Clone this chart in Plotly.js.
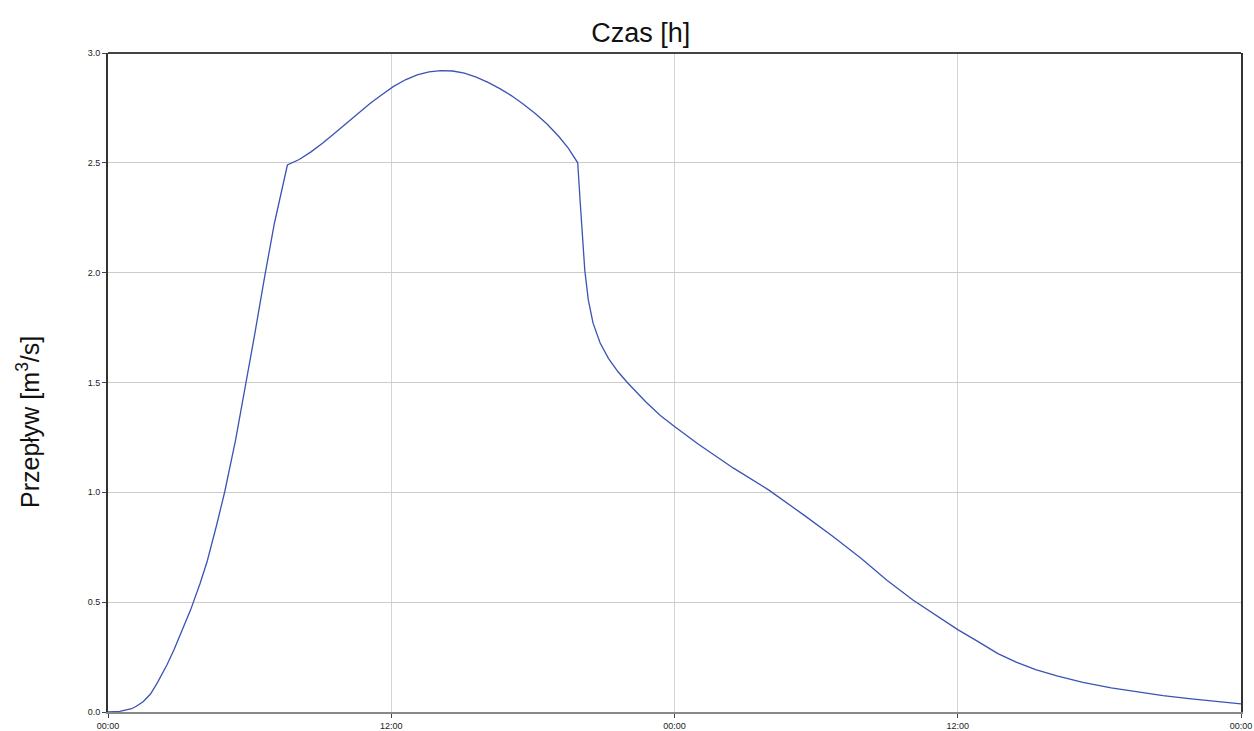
<!DOCTYPE html>
<html>
<head>
<meta charset="utf-8">
<script src="https://cdn.plot.ly/plotly-3.0.1.min.js"></script>
<style>html,body{margin:0;padding:0;background:#fff;}#chart{width:1254px;height:731px;}</style>
</head>
<body>
<div id="chart"></div>
<script>
const hours = [0, 0.5, 1.0, 1.2, 1.5, 1.8, 2.1, 2.5, 2.8, 3.2, 3.5, 3.9, 4.2, 4.6, 4.95, 5.4, 5.8, 6.2, 6.65, 7.05, 7.6,
  8.1, 8.6, 9.1, 9.6, 10.1, 10.6, 11.1, 11.6, 12.1, 12.6, 13.1, 13.6, 14.1, 14.6, 15.1, 15.6, 16.1, 16.6,
  17.1, 17.6, 18.1, 18.6, 19.1, 19.5, 19.9,
  20.0, 20.1, 20.2, 20.35, 20.55, 20.85, 21.2, 21.6, 22.0, 22.8, 23.4, 24.0, 25.0, 26.5, 28.0, 29.5, 30.7,
  31.9, 33.0, 34.1, 35.4, 36.0, 36.9, 37.7, 38.5, 39.3, 40.2, 41.3, 42.5, 43.6, 44.7, 45.8, 47.0, 48.0];
const flow = [0, 0.003, 0.015, 0.026, 0.048, 0.082, 0.135, 0.215, 0.285, 0.385, 0.465, 0.585, 0.685, 0.85, 1.005, 1.235, 1.465, 1.71, 1.99, 2.225, 2.49,
  2.515, 2.55, 2.59, 2.635, 2.68, 2.725, 2.77, 2.81, 2.848, 2.878, 2.9, 2.914, 2.92, 2.918, 2.908, 2.89, 2.866, 2.838,
  2.805, 2.767, 2.725, 2.677, 2.62, 2.567, 2.5,
  2.33, 2.14, 2.01, 1.875, 1.77, 1.68, 1.61, 1.55, 1.50, 1.41, 1.35, 1.30, 1.22, 1.11, 1.01, 0.895, 0.80,
  0.70, 0.60, 0.51, 0.415, 0.375, 0.318, 0.266, 0.226, 0.193, 0.164, 0.135, 0.11, 0.091, 0.075, 0.061, 0.048, 0.037];
const xTickVals = [0, 12, 24, 36, 48];
const xTickText = ["00:00", "12:00", "00:00", "12:00", "00:00"];
const yTickVals = [0, 0.5, 1.0, 1.5, 2.0, 2.5, 3.0];
const yTickText = ["0.0", "0.5", "1.0", "1.5", "2.0", "2.5", "3.0"];
const FONT = 'Liberation Sans, Arial, sans-serif';

const trace = {
  x: hours, y: flow, type: 'scatter', mode: 'lines',
  line: {color: '#3b53b3', width: 1.3}, hoverinfo: 'x+y'
};
const layout = {
  width: 1254, height: 731,
  paper_bgcolor: '#fff', plot_bgcolor: '#fff',
  margin: {l: 108, r: 13, t: 53, b: 19},
  showlegend: false,
  title: {text: 'Czas [h]', font: {family: FONT, size: 27, color: '#111'},
    xref: 'container', yref: 'container', x: 0.511, y: 0.956, xanchor: 'center', yanchor: 'middle'},
  xaxis: {
    range: [0, 48], tickvals: xTickVals, ticktext: xTickText,
    showgrid: true, gridcolor: '#d4d4d4', gridwidth: 1, zeroline: false,
    showline: true, linecolor: '#888', linewidth: 2, mirror: false,
    ticks: 'outside', ticklen: 4, tickcolor: '#444', tickwidth: 1,
    tickfont: {family: FONT, size: 9, color: '#222'}
  },
  yaxis: {
    range: [0, 3], tickvals: yTickVals, ticktext: yTickText,
    showgrid: true, gridcolor: '#cccccc', gridwidth: 1, zeroline: false,
    showline: true, linecolor: '#333', linewidth: 2, mirror: true,
    ticks: 'outside', ticklen: 4, tickcolor: '#444', tickwidth: 1,
    tickfont: {family: FONT, size: 9, color: '#222'}
  },
  annotations: [
    {text: 'Przepływ [m<sup>3</sup>/s]', textangle: -90, showarrow: false,
     xref: 'paper', yref: 'paper', x: (28 - 108) / 1133, y: (712 - 422) / 659,
     xanchor: 'center', yanchor: 'middle',
     font: {family: FONT, size: 25, color: '#111'}}
  ],
  shapes: [
    {type: 'line', xref: 'paper', yref: 'paper', x0: 0, x1: 1, y0: 1, y1: 1, line: {color: '#444', width: 2}}
  ]
};
Plotly.newPlot('chart', [trace], layout, {displayModeBar: false, staticPlot: true});
</script>
</body>
</html>
